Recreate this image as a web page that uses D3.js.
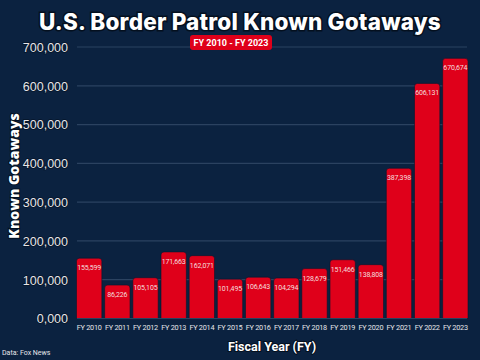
<!DOCTYPE html>
<html><head><meta charset="utf-8">
<script src="https://cdn.jsdelivr.net/npm/d3@7"></script>
<style>html,body{margin:0;padding:0;background:#0b2240;}svg{display:block;}</style>
</head><body>
<svg id="c" width="480" height="360"></svg>
<script>
const categories = ["FY 2010","FY 2011","FY 2012","FY 2013","FY 2014","FY 2015","FY 2016","FY 2017","FY 2018","FY 2019","FY 2020","FY 2021","FY 2022","FY 2023"];
const values = [155599,86226,105105,171663,162071,101495,106643,104294,128679,151466,138808,387398,606131,670674];
const yTicks = [0,100000,200000,300000,400000,500000,600000,700000];
const yTickLabels = ["0,000","100,000","200,000","300,000","400,000","500,000","600,000","700,000"];
const title = "U.S. Border Patrol Known Gotaways";
const subtitle = "FY 2010 - FY 2023";
const yTitle = "Known Gotaways";
const xTitle = "Fiscal Year (FY)";
const source = "Data: Fox News";

const svg = d3.select("#c");
svg.append("rect").attr("width",480).attr("height",360).attr("fill","#0b2240");
const x = d3.scaleBand().domain(categories).range([76.5,468]).paddingInner(0.1).paddingOuter(0);
const y = d3.scaleLinear().domain([0,700000]).range([318.5,47]);

// gridlines
svg.append("g").selectAll("line").data(yTicks).join("line")
  .attr("x1",77).attr("x2",467).attr("y1",d=>y(d)).attr("y2",d=>y(d))
  .attr("stroke","#2b4260").attr("stroke-width",1.2);

// y axis labels
const yAxis = d3.axisLeft(y).tickValues(yTicks).tickFormat((d,i)=>yTickLabels[i]).tickSize(0).tickPadding(0);
const ya = svg.append("g").attr("transform","translate(68,0)").call(yAxis);
ya.select(".domain").remove();
ya.selectAll("text").attr("fill","#e6e6ea").attr("font-family","Liberation Sans, Arial, sans-serif").attr("font-size",12.5).attr("dy","0.35em")
  .style("paint-order","stroke").attr("stroke","#051428").attr("stroke-width",1.5);

// bars with rounded top
const r = 3;
function barPath(d){
  const x0 = x(d.c), w = x.bandwidth(), y0 = y(d.v), yb = y(0);
  return `M${x0},${yb}V${y0+r}Q${x0},${y0} ${x0+r},${y0}H${x0+w-r}Q${x0+w},${y0} ${x0+w},${y0+r}V${yb}Z`;
}
const data = categories.map((c,i)=>({c,v:values[i]}));
svg.append("g").selectAll("path").data(data).join("path")
  .attr("d",barPath).attr("fill","#df001a").attr("stroke","#07172e").attr("stroke-width",0.6);

// baseline
svg.append("line").attr("x1",77).attr("x2",467).attr("y1",y(0)).attr("y2",y(0)).attr("stroke","#2b4260").attr("stroke-width",1.2);

// bar labels
svg.append("g").selectAll("text").data(data).join("text")
  .attr("x",d=>x(d.c)+x.bandwidth()/2).attr("y",d=>y(d.v)+12)
  .attr("text-anchor","middle").attr("fill","#f4dede")
  .attr("font-family","Roboto, sans-serif").attr("font-size",7)
  .attr("letter-spacing",-0.15)
  .text(d=>d3.format(",")(d.v));

// x axis labels
const xAxis = d3.axisBottom(x).tickSize(0).tickPadding(0);
const xa = svg.append("g").attr("transform",`translate(0,${y(0)+6})`).call(xAxis);
xa.select(".domain").remove();
xa.selectAll("text").attr("fill","#e6e6ea").attr("font-family","Roboto, sans-serif").attr("font-size",7.3)
  .attr("letter-spacing",-0.25).attr("dy","0.71em");

// title
svg.append("text").attr("x",240).attr("y",30).attr("text-anchor","middle")
  .attr("fill","#ffffff").attr("font-family","Inter, sans-serif").attr("font-weight",800).attr("font-size",22.5)
  .attr("letter-spacing",0.2)
  .style("paint-order","stroke").attr("stroke","#04101f").attr("stroke-width",3)
  .text(title);

// subtitle badge
const sub = svg.append("g");
sub.append("rect").attr("x",190).attr("y",35).attr("width",82).attr("height",15).attr("rx",3).attr("fill","#df001a");
sub.append("text").attr("x",231).attr("y",46.2).attr("text-anchor","middle").attr("fill","#ffffff")
  .attr("font-family","Roboto, sans-serif").attr("font-weight",700).attr("font-size",9).text(subtitle);

// axis titles
svg.append("text").attr("transform","translate(19,176) rotate(-90)").attr("text-anchor","middle")
  .attr("fill","#ffffff").attr("font-family","Open Sans, sans-serif").attr("font-weight",800).attr("font-size",14)
  .style("paint-order","stroke").attr("stroke","#04101f").attr("stroke-width",2)
  .text(yTitle);
svg.append("text").attr("x",272).attr("y",351).attr("text-anchor","middle")
  .attr("fill","#ffffff").attr("font-family","Roboto, sans-serif").attr("font-weight",700).attr("font-size",12.5)
  .style("paint-order","stroke").attr("stroke","#04101f").attr("stroke-width",2)
  .text(xTitle);

svg.append("text").attr("x",2).attr("y",355).attr("fill","#e6e6ea")
  .attr("font-family","Roboto, sans-serif").attr("font-size",7).text(source);
</script>
</body></html>
